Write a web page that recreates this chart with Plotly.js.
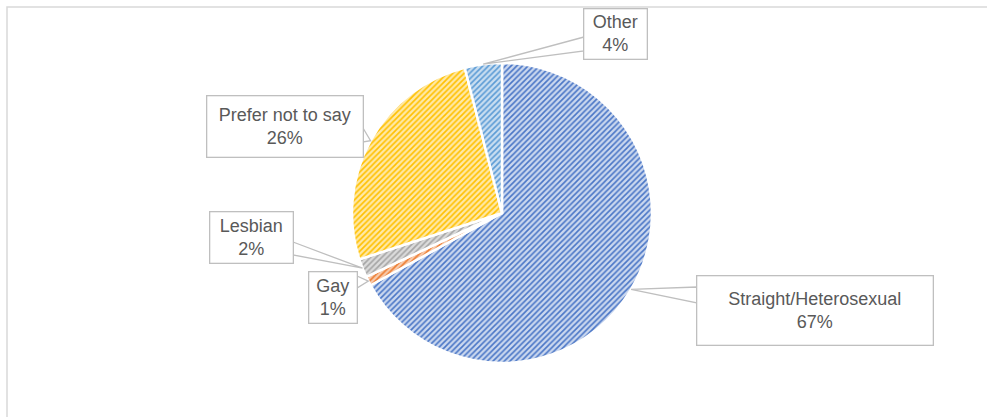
<!DOCTYPE html>
<html>
<head>
<meta charset="utf-8">
<script src="https://cdn.plot.ly/plotly-3.0.1.min.js"></script>
<style>html,body{margin:0;padding:0;background:#fff;}#chart{width:987px;height:417px;}</style>
</head>
<body>
<div id="chart"></div>
<script>
// ---- data ----
const labels = ["Straight/Heterosexual", "Gay", "Lesbian", "Prefer not to say", "Other"];
const values = [67, 1, 2, 26, 4];
const fgColors = ["#4A76C6", "#ED7D31", "#A5A5A5", "#FFC000", "#5B9BD5"];
const bgColors = ["#CBD8EF", "#F8CBAD", "#DBDBDB", "#FFE9A6", "#C9DEF1"];

// ---- layout geometry (pixels) ----
const W = 987, H = 417;
const cx = 502, cy = 213, R = 150;
// label boxes: [left, top, right, bottom], callout side and base span
const boxes = [
  {b: [697, 276, 933, 345], side: "left",  y0: 287, y1: 303},
  {b: [309, 272, 357, 323], side: "right", y0: 276, y1: 288},
  {b: [210, 212, 293, 263], side: "right", y0: 242, y1: 255},
  {b: [207,  96, 363, 157], side: "right", y0: 128, y1: 142},
  {b: [584,   9, 647,  59], side: "left",  y0: 37,  y1: 51}
];

const px = x => x / W;
const py = y => 1 - y / H;

const total = values.reduce((a, b) => a + b, 0);
let cum = 0;
const shapes = [];
const annotations = [];
values.forEach((v, i) => {
  const mid = (cum + v / 2) / total * 2 * Math.PI; // clockwise from 12 o'clock
  cum += v;
  const ax = cx + R * Math.sin(mid);
  const ay = cy - R * Math.cos(mid);
  const bx = boxes[i];
  const [l, t, r, b] = bx.b;
  const ex = bx.side === "left" ? l : r;
  shapes.push({
    type: "path", xref: "paper", yref: "paper", layer: "above",
    path: `M ${px(ex)} ${py(bx.y0)} L ${px(ax)} ${py(ay)} L ${px(ex)} ${py(bx.y1)} Z`,
    fillcolor: "#FFFFFF", line: {color: "#BFBFBF", width: 1.3}
  });
  const pct = Math.round(v / total * 100) + "%";
  annotations.push({
    xref: "paper", yref: "paper",
    x: px((l + r) / 2), y: py((t + b) / 2),
    xanchor: "center", yanchor: "middle",
    text: labels[i] + "<br>" + pct,
    showarrow: false,
    font: {family: "Liberation Sans, Arial, sans-serif", size: 18, color: "#595959"},
    bgcolor: "#FFFFFF", bordercolor: "#BFBFBF", borderwidth: 1.3, borderpad: 0,
    width: r - l - 1, height: b - t - 1, align: "center", valign: "middle"
  });
});

// chart frame
shapes.unshift({
  type: "rect", xref: "paper", yref: "paper", layer: "below",
  x0: px(7), x1: 1.05, y0: -0.05, y1: py(7),
  line: {color: "#D9D9D9", width: 1.5}, fillcolor: "rgba(0,0,0,0)"
});

const trace = {
  type: "pie",
  labels: labels,
  values: values,
  sort: false,
  direction: "clockwise",
  rotation: 0,
  textinfo: "none",
  hoverinfo: "label+percent",
  showlegend: false,
  domain: {x: [px(cx - R), px(cx + R)], y: [py(cy + R), py(cy - R)]},
  marker: {
    colors: bgColors,
    line: {color: "#FFFFFF", width: 2.5},
    pattern: {shape: "/", fgcolor: fgColors, bgcolor: bgColors, size: 4, solidity: 0.4}
  }
};

const layout = {
  width: W, height: H,
  margin: {l: 0, r: 0, t: 0, b: 0},
  paper_bgcolor: "#FFFFFF",
  showlegend: false,
  shapes: shapes,
  annotations: annotations
};

Plotly.newPlot("chart", [trace], layout, {displayModeBar: false, staticPlot: true});
</script>
</body>
</html>
